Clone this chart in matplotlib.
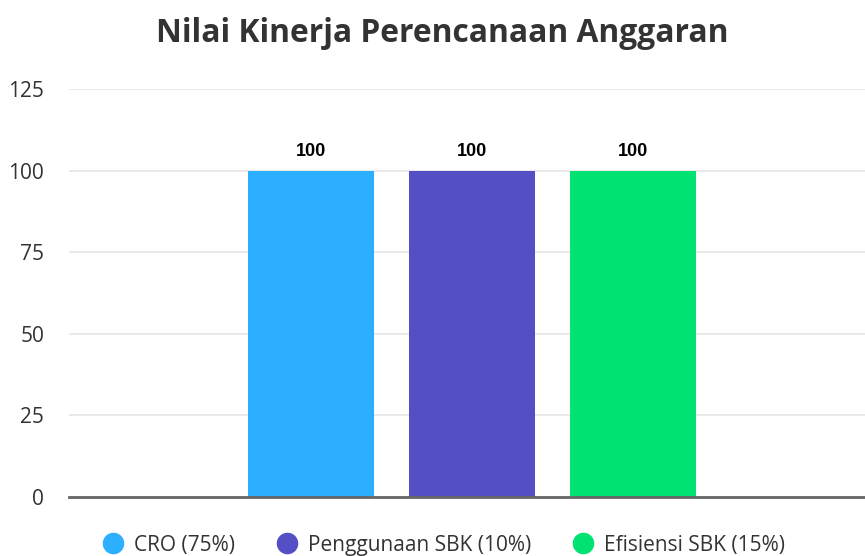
import matplotlib
matplotlib.use("Agg")
import matplotlib.pyplot as plt
from matplotlib.lines import Line2D

plt.rcParams['font.family'] = ['Open Sans', 'DejaVu Sans']

title = "Nilai Kinerja Perencanaan Anggaran"
series_names = ["CRO (75%)", "Penggunaan SBK (10%)", "Efisiensi SBK (15%)"]
series_values = [100, 100, 100]
colors = ["#2caffe", "#544fc5", "#00e272"]
yticks = [0, 25, 50, 75, 100, 125]

W, H = 865, 556
fig = plt.figure(figsize=(W / 100, H / 100), dpi=100)
left, right, bottom_px, top_px = 69, 875, 497, 89
ax = fig.add_axes([left / W, (H - bottom_px) / H, (right - left) / W, (bottom_px - top_px) / H])

bar_w = 126 / (right - left)
step = 161 / (right - left)
n = len(series_values)
for i, (name, val, c) in enumerate(zip(series_names, series_values, colors)):
    x = (i - (n - 1) / 2) * step
    ax.bar(x, val, width=bar_w, color=c, label=name, zorder=3)
    ax.text(x, val + 3.3, f"{val}", ha='center', va='bottom', fontsize=13,
            fontweight='bold', color='#000000', family=['Liberation Sans', 'DejaVu Sans'], zorder=4)

ax.set_xlim(-0.5, 0.5)
ax.set_ylim(0, 125)
ax.set_yticks(yticks)
ax.set_xticks([])
ax.grid(axis='y', color='#e6e6e6', linewidth=1.2, zorder=0)
for s in ['top', 'right', 'left']:
    ax.spines[s].set_visible(False)
ax.spines['bottom'].set_color('#666666')
ax.spines['bottom'].set_linewidth(2)
ax.spines['bottom'].set_zorder(5)
ax.tick_params(axis='y', length=0, pad=18, labelsize=15, labelcolor='#333333')

fig.text(442 / W, 1 - 33 / H, title, ha='center', va='center', fontsize=22.9,
         fontweight='bold', color='#333333')

handles = [Line2D([0], [0], marker='o', linestyle='', markersize=14.5,
                  markerfacecolor=c, markeredgecolor=c) for c in colors]
fig.legend(handles, series_names, loc='center', bbox_to_anchor=(444 / W, 1 - 545 / H),
           ncol=3, frameon=False, fontsize=15, labelcolor='#333333',
           handletextpad=0.5, columnspacing=2.0, handlelength=1.0)

fig.savefig("out.png", dpi=100)
